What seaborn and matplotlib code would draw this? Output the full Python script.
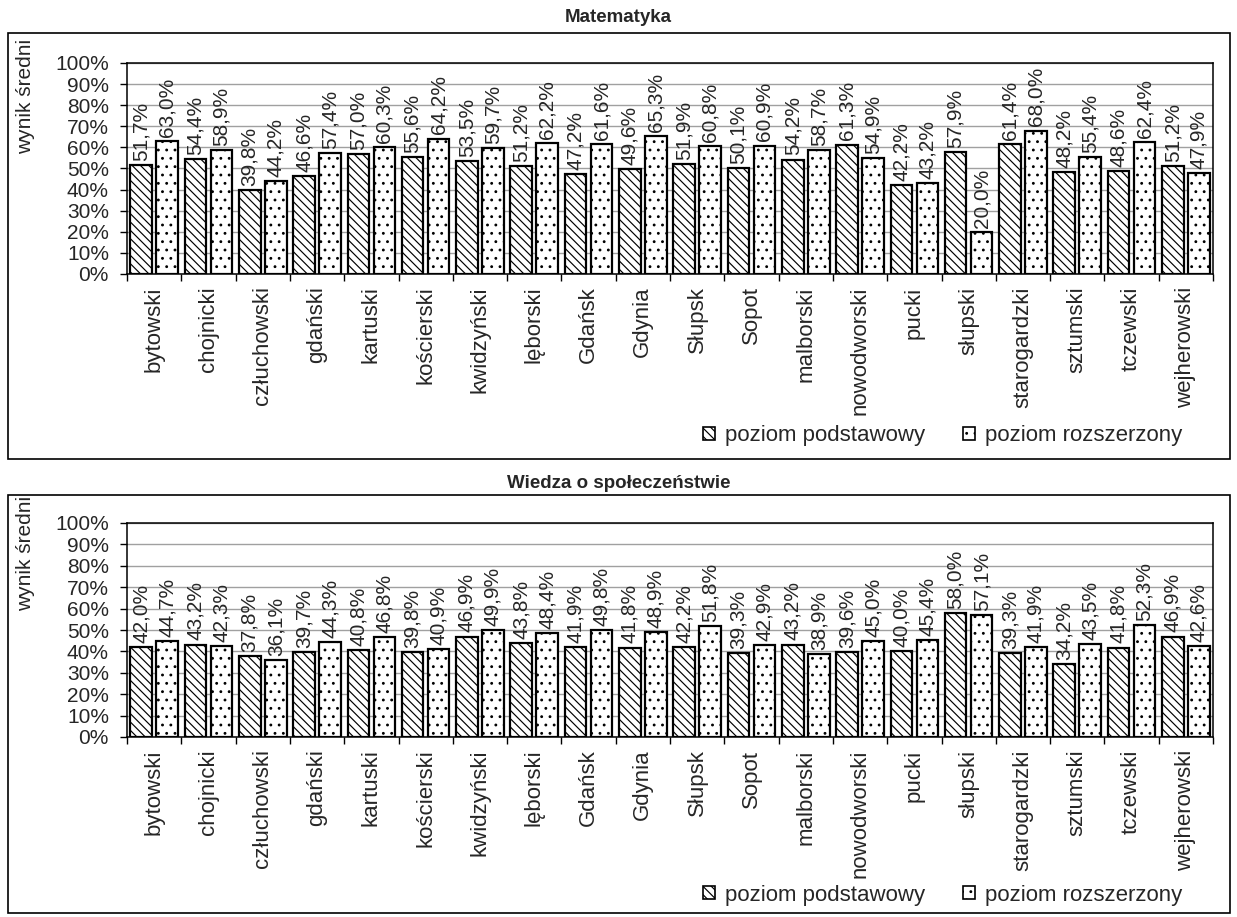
import numpy as np
import pandas as pd
import matplotlib
matplotlib.use("Agg")
import matplotlib.pyplot as plt
import seaborn as sns
from matplotlib.patches import Patch, Rectangle

# --- dane: powiaty i średnie wyniki (%) ---
powiaty = ["bytowski", "chojnicki", "człuchowski", "gdański", "kartuski",
           "kościerski", "kwidzyński", "lęborski", "Gdańsk", "Gdynia",
           "Słupsk", "Sopot", "malborski", "nowodworski", "pucki",
           "słupski", "starogardzki", "sztumski", "tczewski", "wejherowski"]
serie = ["poziom podstawowy", "poziom rozszerzony"]

mat_podst = [51.7, 54.4, 39.8, 46.6, 57.0, 55.6, 53.5, 51.2, 47.2, 49.6,
             51.9, 50.1, 54.2, 61.3, 42.2, 57.9, 61.4, 48.2, 48.6, 51.2]
mat_rozsz = [63.0, 58.9, 44.2, 57.4, 60.3, 64.2, 59.7, 62.2, 61.6, 65.3,
             60.8, 60.9, 58.7, 54.9, 43.2, 20.0, 68.0, 55.4, 62.4, 47.9]

wos_podst = [42.0, 43.2, 37.8, 39.7, 40.8, 39.8, 46.9, 43.8, 41.9, 41.8,
             42.2, 39.3, 43.2, 39.6, 40.0, 58.0, 39.3, 34.2, 41.8, 46.9]
wos_rozsz = [44.7, 42.3, 36.1, 44.3, 46.8, 40.9, 49.9, 48.4, 49.8, 48.9,
             51.8, 42.9, 38.9, 45.0, 45.4, 57.1, 41.9, 43.5, 52.3, 42.6]

tytuly = ["Matematyka", "Wiedza o społeczeństwie"]
yticks = list(range(0, 101, 10))
wzory = ["\\\\\\\\", ".."]

sns.set_theme(style="white")
plt.rcParams['font.family'] = ['Liberation Sans', 'DejaVu Sans']
plt.rcParams['hatch.linewidth'] = 0.85

W, H = 1237, 917
fig = plt.figure(figsize=(W / 100, H / 100), dpi=100)


def fx(px):
    return px / W


def fy(px):
    return 1 - px / H


def rysuj(ax, podst, rozsz):
    df = pd.DataFrame({
        "powiat": powiaty * 2,
        "poziom": [serie[0]] * len(powiaty) + [serie[1]] * len(powiaty),
        "wynik": podst + rozsz,
    })
    sns.barplot(data=df, x="powiat", y="wynik", hue="poziom", ax=ax,
                palette=["white", "white"], saturation=1, width=0.96, gap=0.17,
                edgecolor="black", linewidth=1.6, legend=False, errorbar=None)
    for cont, wzor, vals in zip(ax.containers, wzory, [podst, rozsz]):
        for p in cont:
            p.set_hatch(wzor)
        etykiety = [f"{v:.1f}%".replace(".", ",") for v in vals]
        ax.bar_label(cont, labels=etykiety, rotation=90, padding=3, fontsize=15)

    ax.set_ylim(0, 100)
    ax.set_xlim(-0.5, len(powiaty) - 0.5)
    ax.set_yticks(yticks)
    ax.set_yticklabels([f"{t}%" for t in yticks], fontsize=15)
    ax.yaxis.grid(True, color="#a0a0a0", linewidth=1)
    ax.set_axisbelow(True)
    ax.set_xticks(range(len(powiaty)))
    ax.set_xticklabels(powiaty, rotation=90, fontsize=16)
    ax.set_xticks(np.arange(-0.5, len(powiaty), 1), minor=True)
    ax.tick_params(axis="x", which="major", length=0, pad=9)
    ax.tick_params(axis="x", which="minor", length=5, width=1, color="black",
                   direction="out", bottom=True)
    ax.tick_params(axis="y", length=5, width=1, color="black", direction="out",
                   left=True, pad=8)
    ax.set_xlabel("")
    ax.set_ylabel("")
    for s in ax.spines.values():
        s.set_color("black")
        s.set_linewidth(1.1)


panele = [
    # (oś: top, bottom px), (ramka: top, bottom px), tytul y, legenda y, ylabel y
    ((63, 274), (33, 459), 17, 436, 96, mat_podst, mat_rozsz),
    ((523, 737), (495, 913), 483, 895, 553, wos_podst, wos_rozsz),
]

for tytul, (osy, ramka, ty, ly, yl, podst, rozsz) in zip(tytuly, panele):
    ax = fig.add_axes([fx(127), fy(osy[1]), fx(1213) - fx(127), fy(osy[0]) - fy(osy[1])])
    rysuj(ax, podst, rozsz)

    fig.patches.append(Rectangle((fx(8), fy(ramka[1])), fx(1230) - fx(8),
                                 fy(ramka[0]) - fy(ramka[1]), transform=fig.transFigure,
                                 fill=False, edgecolor="black", linewidth=1.2))
    fig.text(0.5, fy(ty), tytul, ha="center", va="center", fontsize=13.5,
             fontweight="bold")
    fig.text(fx(26), fy(yl), "wynik średni", rotation=90, ha="center",
             va="center", fontsize=15)

    uchwyty = [Patch(facecolor="white", edgecolor="black", hatch=w, linewidth=1.2)
               for w in wzory]
    fig.legend(uchwyty, serie, loc="center left", bbox_to_anchor=(fx(703), fy(ly)),
               ncol=2, frameon=False, fontsize=16, handlelength=0.55,
               handleheight=0.55, handletextpad=0.45, columnspacing=1.7,
               borderaxespad=0, borderpad=0)

fig.savefig("out.png", dpi=100)
